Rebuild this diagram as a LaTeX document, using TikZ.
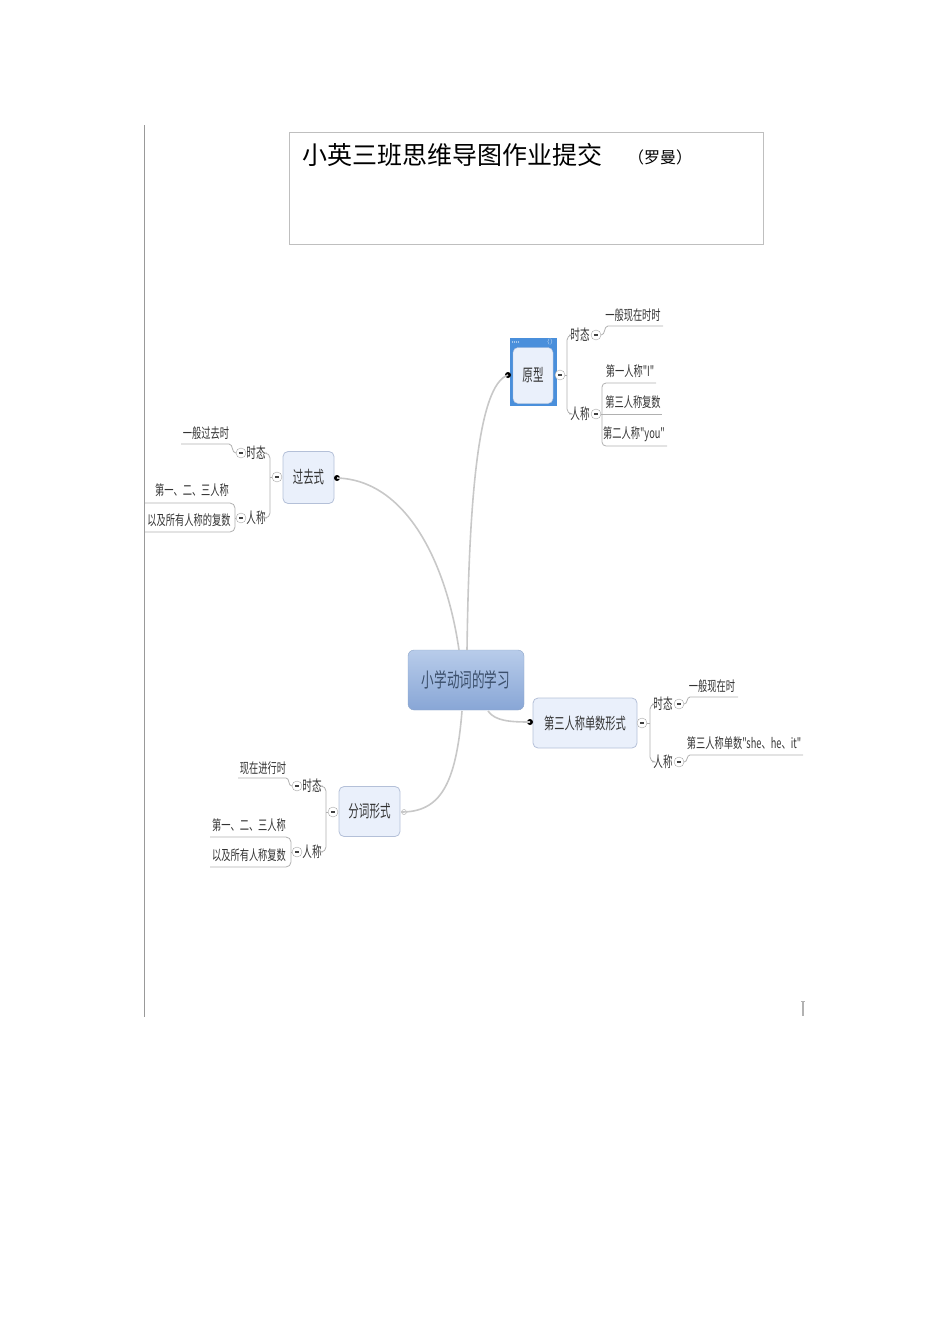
\documentclass[tikz,border=0pt]{standalone}
\usepackage{fontspec}
\usepackage{graphicx}
\newfontfamily\cjk{Noto Sans CJK SC}
\newcommand\cz[2][0.7]{\scalebox{#1}[1]{#2}}
\definecolor{subfill}{HTML}{EAF0FB}
\definecolor{subdraw}{HTML}{B4C0D8}
\definecolor{linec}{HTML}{C8C8C8}
\definecolor{brc}{HTML}{B0B0B0}
\definecolor{txtc}{HTML}{333333}
\definecolor{framec}{HTML}{4A8FDB}
\definecolor{cdraw}{HTML}{8FA6C8}
\definecolor{ctop}{HTML}{B8CCEA}
\definecolor{cbot}{HTML}{88A6D6}
\definecolor{ctext}{HTML}{3B4F6B}
\tikzset{
  x=1pt, y=-1pt,
  mainline/.style={linec, line width=1.6pt},
  br/.style={brc, line width=0.8pt},
  subbox/.style={draw=subdraw, fill=subfill, rounded corners=5pt, line width=0.8pt, text=txtc, inner sep=0pt},
  lbl/.style={inner sep=1pt, text=txtc, font=\cjk\fontsize{15}{15}\selectfont},
  leaf/.style={inner sep=0pt, text=txtc, font=\cjk\fontsize{14}{14}\selectfont},
  col/.style={circle, draw=gray!70, fill=white, minimum size=10pt, inner sep=0pt,
    path picture={\draw[line width=1.1pt, black!75] ([xshift=-2.2pt]path picture bounding box.center) -- ([xshift=2.2pt]path picture bounding box.center);}},
  dot/.style={circle, fill=black, inner sep=0pt, minimum size=6pt},
  hdot/.style={circle, draw=gray!70, fill=white, inner sep=0pt, minimum size=5pt}
}
\begin{document}
\begin{tikzpicture}
\useasboundingbox (0,0) rectangle (950,1344);
% left margin line
\draw[gray!80, line width=1pt] (144,125) -- (144,1017);
% small mark
\draw[gray!60, line width=1.5pt] (803,1001) -- (803,1016);
\draw[gray!60, line width=0.8pt] (801,1001) -- (805,1001);
% title box
\draw[gray!50, line width=0.8pt] (289,132) rectangle (763,244);
\node[anchor=west, inner sep=0pt, font=\cjk\fontsize{25}{25}\selectfont] (title) at (302,155) {小英三班思维导图作业提交};
\node[anchor=west, inner sep=0pt, font=\cjk\fontsize{16}{16}\selectfont] (author) at (628,157) {（罗曼）};

% central node
\node[draw=cdraw, rounded corners=6pt, top color=ctop, bottom color=cbot, minimum width=116pt, minimum height=60pt, inner sep=0pt, text=ctext, font=\cjk\fontsize{20}{20}\selectfont] (c) at (466,680) {\cz[0.63]{小学动词的学习}};

% yuanxing (framed)
\node[draw=framec, fill=framec, line width=0.8pt, minimum width=46pt, minimum height=67pt, inner sep=0pt] (yx) at (533,371.5) {};
\node[draw=subdraw, fill=subfill, rounded corners=5pt, minimum width=40pt, minimum height=56pt, inner sep=0pt, text=txtc, font=\cjk\fontsize{17}{17}\selectfont] (yxin) at (533,375.5) {\cz[0.62]{原型}};
\foreach \i in {0,1,2,3} \fill[white] (512.5+2*\i,342) circle (0.6pt);
\node[inner sep=0pt, text=white, font=\fontsize{6}{6}\selectfont] (yxarr) at (550,342) {$\langle\rangle$};

% other subnodes
\node[subbox, minimum width=51pt, minimum height=52pt, font=\cjk\fontsize{17}{17}\selectfont] (gq) at (308.5,477.5) {\cz[0.61]{过去式}};
\node[subbox, minimum width=104pt, minimum height=50pt, font=\cjk\fontsize{16}{16}\selectfont] (ds) at (585,723) {\cz[0.64]{第三人称单数形式}};
\node[subbox, minimum width=61pt, minimum height=50pt, font=\cjk\fontsize{17}{17}\selectfont] (fc) at (369.5,811.5) {\cz[0.62]{分词形式}};

% main connectors
\node[dot] (yxd) at (508,375) {};
\node[dot] (gqd) at (337,478) {};
\node[dot] (dsd) at (530,722) {};
\node[hdot] (fcd) at (404,812) {};
\draw[mainline] (467,650) .. controls (469,500) and (478,385) .. (yxd.center);
\draw[mainline] (459,650) .. controls (446,560) and (405,480) .. (gqd.center);
\draw[mainline] (488,711) .. controls (495,721) and (510,722) .. (dsd.center);
\draw[mainline] (462,711) .. controls (456,785) and (440,812) .. (fcd.west);

% collapse circles
\node[col] (yxc) at (560,375) {};
\node[col] (gqc) at (277,477) {};
\node[col] (dsc) at (642,723) {};
\node[col] (fcc) at (333,812) {};

% labels
\node[lbl] (ts1) at (580,335) {\cz[0.64]{时态}};
\node[lbl] (rc1) at (580,414) {\cz[0.64]{人称}};
\node[col] (ts1c) at (596,335) {};
\node[col] (rc1c) at (596,414) {};

\node[lbl] (ts2) at (256,453) {\cz[0.64]{时态}};
\node[lbl] (rc2) at (256,518) {\cz[0.64]{人称}};
\node[col] (ts2c) at (241,453) {};
\node[col] (rc2c) at (241,518) {};

\node[lbl] (ts3) at (663,704) {\cz[0.64]{时态}};
\node[lbl] (rc3) at (663,762) {\cz[0.64]{人称}};
\node[col] (ts3c) at (679,704) {};
\node[col] (rc3c) at (679,762) {};

\node[lbl] (ts4) at (312,786) {\cz[0.64]{时态}};
\node[lbl] (rc4) at (312,852) {\cz[0.64]{人称}};
\node[col] (ts4c) at (297,786) {};
\node[col] (rc4c) at (297,852) {};

% brackets
\draw[br] (yxc.east) -- (567,375);
\draw[br, rounded corners=5pt] (ts1.west) -| (567,375) |- (rc1.west);
\draw[br] (gqc.west) -- (270,477);
\draw[br, rounded corners=5pt] (ts2.east) -| (270,477) |- (rc2.east);
\draw[br] (dsc.east) -- (650,723);
\draw[br, rounded corners=5pt] (ts3.west) -| (650,723) |- (rc3.west);
\draw[br] (fcc.west) -- (326,812);
\draw[br, rounded corners=5pt] (ts4.east) -| (326,812) |- (rc4.east);

% leaves: yuanxing
\node[leaf] (l1) at (633,315) {\cz[0.66]{一般现在时时}};
\draw[br] (ts1c.east) to[out=0, in=180] (608,326) -- (663,326);
\node[leaf] (l2) at (630,371) {\cz[0.66]{第一人称"I"}};
\node[leaf] (l3) at (633,402) {\cz[0.66]{第三人称复数}};
\node[leaf] (l4) at (634,434) {\cz[0.66]{第二人称"you"}};
\draw[br, rounded corners=4pt] (656,383) -| (602,446) -- (667,446);
\draw[br] (rc1c.east) -- (662,414);

% leaves: guoqushi
\node[leaf] (l5) at (206,433) {\cz[0.66]{一般过去时}};
\draw[br] (ts2c.west) to[out=180, in=0] (229,444) -- (181,444);
\node[leaf] (l6) at (192,490) {\cz[0.66]{第一、二、三人称}};
\node[leaf] (l7) at (189,520) {\cz[0.66]{以及所有人称的复数}};
\draw[br, rounded corners=5pt] (145,503) -- (235,503) -- (235,532) -- (145,532);
\draw[br] (rc2c.west) -- (235,518);

% leaves: disan
\node[leaf] (l8) at (712,686) {\cz[0.66]{一般现在时}};
\draw[br] (ts3c.east) to[out=0, in=180] (690,697) -- (738,697);
\node[leaf] (l9) at (744,743) {\cz[0.66]{第三人称单数"she、he、it"}};
\draw[br] (rc3c.east) to[out=0, in=180] (690,755) -- (803,755);

% leaves: fenci
\node[leaf] (l10) at (263,768) {\cz[0.66]{现在进行时}};
\draw[br] (ts4c.west) to[out=180, in=0] (286,778) -- (238,778);
\node[leaf] (l11) at (249,825) {\cz[0.66]{第一、二、三人称}};
\node[leaf] (l12) at (249,855) {\cz[0.66]{以及所有人称复数}};
\draw[br, rounded corners=5pt] (210,837) -- (291,837) -- (291,867) -- (210,867);
\draw[br] (rc4c.west) -- (291,852);
\end{tikzpicture}
\end{document}
